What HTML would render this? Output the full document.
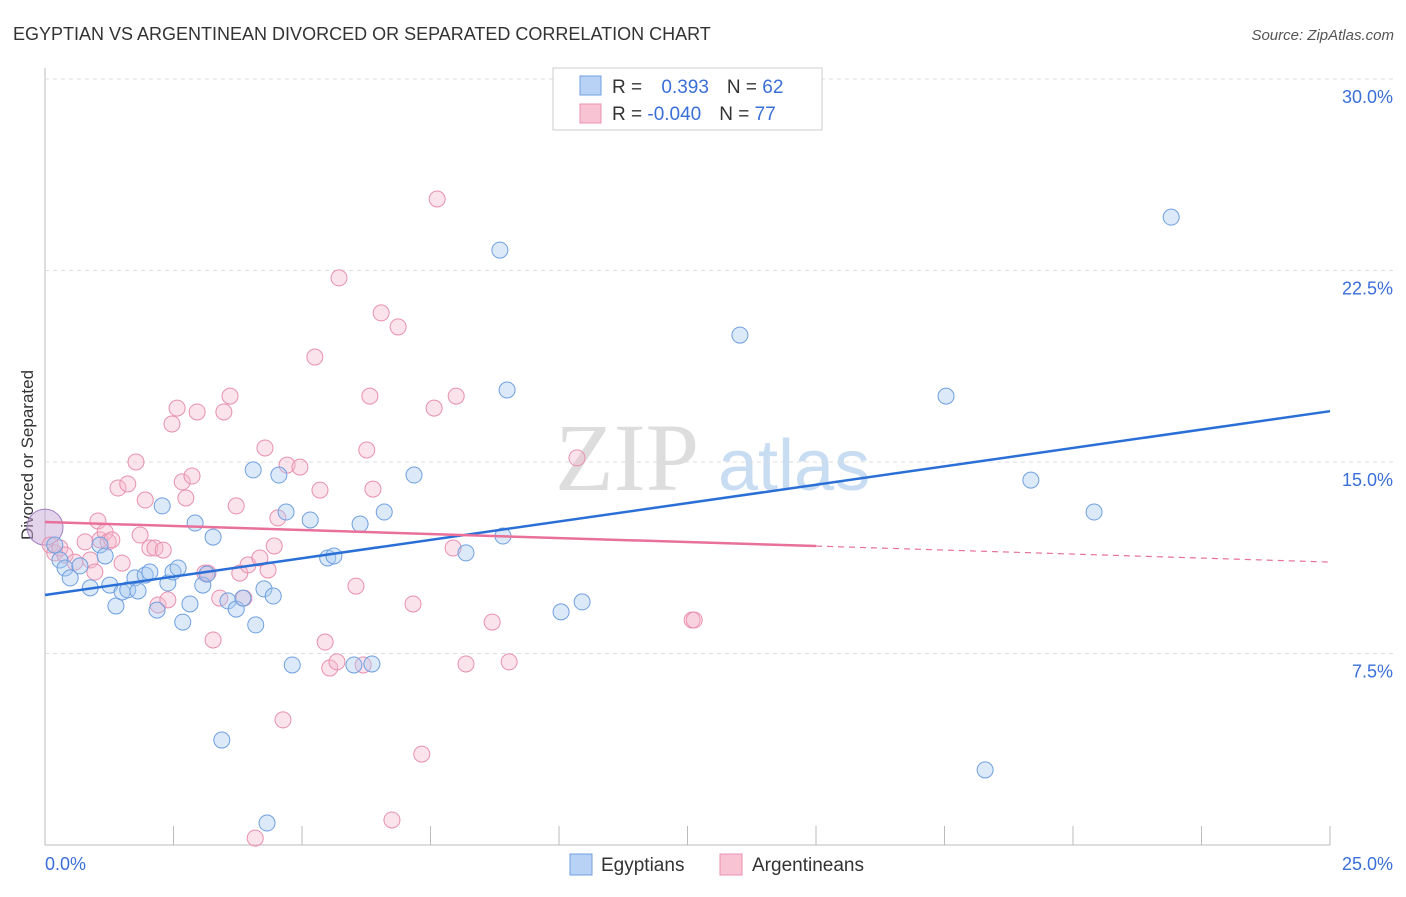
<!DOCTYPE html>
<html><head><meta charset="utf-8"><style>
body{margin:0;background:#fff;font-family:"Liberation Sans",sans-serif;}
</style></head><body>
<svg id="c" width="1406" height="892" xmlns="http://www.w3.org/2000/svg">
<text x="13" y="40" font-size="18" fill="#333">EGYPTIAN VS ARGENTINEAN DIVORCED OR SEPARATED CORRELATION CHART</text>
<text x="1394" y="40" font-size="15" fill="#555" font-style="italic" text-anchor="end">Source: ZipAtlas.com</text>
<text transform="translate(33,455) rotate(-90)" font-size="17" fill="#333" text-anchor="middle">Divorced or Separated</text>
<g><text x="555" y="490" font-size="96" font-family="Liberation Serif,serif" fill="#ddd">ZIP</text><text x="718" y="490" font-size="72" fill="#c8dcf2">atlas</text></g>
<g id="grid"></g><g id="pts"></g><g id="lines"></g>
<g>
<rect x="553" y="68" width="269" height="62" fill="#fff" stroke="#ccc"/>
<rect x="580" y="76" width="21" height="19" fill="#b8d2f5" stroke="#6fa0e0"/>
<rect x="580" y="104" width="21" height="19" fill="#f8c4d4" stroke="#e890b0"/>
<text x="612" y="93" font-size="19" fill="#333">R = <tspan fill="#3a6fd8" dx="14">0.393</tspan><tspan dx="18">N = </tspan><tspan fill="#3a6fd8">62</tspan></text>
<text x="612" y="120" font-size="19" fill="#333">R = <tspan fill="#3a6fd8">-0.040</tspan><tspan dx="18">N = </tspan><tspan fill="#3a6fd8">77</tspan></text>
</g>
<g>
<rect x="570" y="854" width="22" height="21" fill="#b8d2f5" stroke="#6fa0e0"/><text x="601" y="871" font-size="19" fill="#333">Egyptians</text>
<rect x="720" y="854" width="22" height="21" fill="#f8c4d4" stroke="#e890b0"/><text x="752" y="871" font-size="19" fill="#333">Argentineans</text>
</g>
</svg>
<script>
const yTicks=[7.5,15,22.5,30];
const yTickLabels=["7.5%","15.0%","22.5%","30.0%"];
const xTicks=[0,2.5,5,7.5,10,12.5,15,17.5,20,22.5,25];
const egyX=[0.19,0.29,0.39,0.49,0.68,0.88,1.07,1.17,1.26,1.38,1.50,1.61,1.75,1.81,1.95,2.04,2.18,2.28,2.39,2.49,2.59,2.68,2.82,2.92,3.07,3.15,3.27,3.44,3.56,3.72,3.85,4.05,4.10,4.26,4.32,4.44,4.55,4.69,4.81,5.16,5.50,5.62,6.01,6.13,6.36,6.60,7.18,8.19,8.85,8.91,8.99,10.04,10.45,13.52,17.53,18.29,19.18,20.41,21.91];
const egyY=[11.75,11.16,10.85,10.46,10.93,10.07,11.75,11.32,10.18,9.36,9.91,9.99,10.46,9.95,10.57,10.69,9.20,13.28,10.26,10.69,10.85,8.73,9.44,12.61,10.18,10.61,12.06,4.11,9.56,9.24,9.67,14.69,8.62,10.03,0.86,9.75,14.49,13.04,7.05,12.73,11.24,11.32,7.05,12.57,7.09,13.04,14.49,11.44,23.30,12.10,17.82,9.13,9.52,19.97,17.58,2.94,14.29,13.04,24.59];
const argX=[0.10,0.19,0.29,0.39,0.58,0.78,0.88,0.97,1.03,1.07,1.17,1.23,1.30,1.42,1.50,1.61,1.77,1.85,1.95,2.04,2.14,2.20,2.30,2.39,2.47,2.57,2.67,2.74,2.86,2.96,3.11,3.17,3.27,3.40,3.48,3.60,3.72,3.79,3.87,3.95,4.09,4.18,4.28,4.34,4.46,4.53,4.63,4.71,4.96,5.25,5.35,5.45,5.54,5.68,5.72,6.05,6.19,6.26,6.32,6.38,6.54,6.75,6.87,7.16,7.33,7.57,7.63,7.94,8.00,8.19,8.70,9.03,10.35,12.59,12.63];
const argY=[11.75,11.44,11.63,11.36,11.08,11.87,11.16,10.69,12.69,11.95,12.26,11.87,11.95,13.98,11.04,14.14,15.00,12.14,13.51,11.63,11.63,9.40,11.55,9.60,16.49,17.11,14.22,13.59,14.45,16.96,10.65,10.65,8.03,9.67,16.96,17.58,13.28,10.65,9.67,10.97,0.27,11.24,15.55,10.77,11.71,12.81,4.90,14.88,14.80,19.11,13.90,7.95,6.93,7.17,22.21,10.14,7.05,15.47,17.58,13.94,20.84,0.98,20.29,9.44,3.56,17.11,25.30,11.63,17.58,7.09,8.73,7.17,15.16,8.81,8.81];
const egyLine=[9.79,16.99];
const argLine=[12.65,11.08];
const argSolidEnd=15;
const NS="http://www.w3.org/2000/svg";
const sx=v=>45+v/25*1285, sy=v=>845-v/7.5*191.5;
function mk(t,a,p){const e=document.createElementNS(NS,t);for(const k in a)e.setAttribute(k,a[k]);document.getElementById(p).appendChild(e);return e;}
mk('line',{x1:45,y1:68,x2:45,y2:845,stroke:'#bbb'},'grid');
mk('line',{x1:45,y1:845,x2:1330,y2:845,stroke:'#bbb'},'grid');
yTicks.forEach((t,i)=>{const l=mk('line',{x1:45,y1:sy(t),x2:1395,y2:sy(t),stroke:'#ddd','stroke-dasharray':'4,4'},'grid');


const tx=mk('text',{x:1393,y:sy(t)+24,'font-size':18,fill:'#3a6fd8','text-anchor':'end'},'grid');tx.textContent=yTickLabels[i];

});
xTicks.forEach(t=>{const l=mk('line',{x1:sx(t),y1:826,x2:sx(t),y2:845,stroke:'#bbb'},'grid');

});
const xl=mk('text',{x:45,y:870,'font-size':18,fill:'#3a6fd8'},'grid');xl.textContent='0.0%';


const xr=mk('text',{x:1393,y:870,'font-size':18,fill:'#3a6fd8','text-anchor':'end'},'grid');xr.textContent='25.0%';


const big=mk('circle',{cx:sx(0),cy:sy(12.45),r:18,fill:'#c8a8d8','fill-opacity':0.5,stroke:'#a080c0'},'pts');


argX.forEach((x,i)=>{const c=mk('circle',{cx:sx(x),cy:sy(argY[i]),r:8,fill:'#f5b8cc','fill-opacity':0.4,stroke:'#e890b0','stroke-width':1},'pts');

});
egyX.forEach((x,i)=>{const c=mk('circle',{cx:sx(x),cy:sy(egyY[i]),r:8,fill:'#a8c8f0','fill-opacity':0.4,stroke:'#6fa0e0','stroke-width':1},'pts');

});
const bl=mk('line',{x1:sx(0),y1:sy(egyLine[0]),x2:sx(25),y2:sy(egyLine[1]),stroke:'#2a6fd6','stroke-width':2.5},'lines');


const am=argLine[0]+(argLine[1]-argLine[0])*argSolidEnd/25;
const pl=mk('line',{x1:sx(0),y1:sy(argLine[0]),x2:sx(argSolidEnd),y2:sy(am),stroke:'#e8709a','stroke-width':2.5},'lines');


const pd=mk('line',{x1:sx(argSolidEnd),y1:sy(am),x2:sx(25),y2:sy(argLine[1]),stroke:'#e8709a','stroke-width':1.2,'stroke-dasharray':'6,5'},'lines');


</script>
</body></html>
